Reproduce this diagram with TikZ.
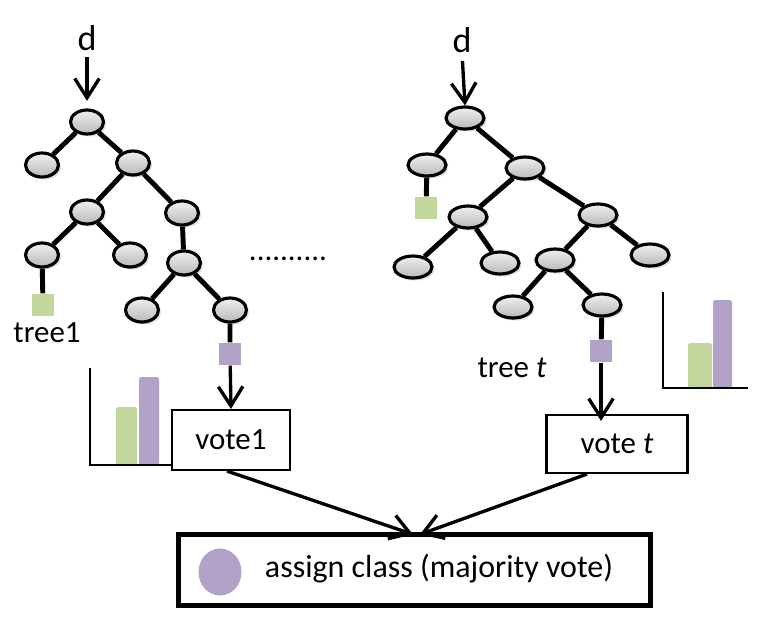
\documentclass[tikz,border=0pt]{standalone}
\usepackage{fontspec}
\setmainfont{Carlito}
\usepackage{tikz}
\usetikzlibrary{shapes.geometric,shadows,arrows.meta}

\definecolor{leafgreen}{HTML}{C3D69B}
\definecolor{leafpurple}{HTML}{B3A2C7}

\begin{document}
\begin{tikzpicture}[x=0.02cm,y=-0.02cm,
	txt/.style={inner sep=0pt,font=\fontsize{17.6}{21}\selectfont},
	input/.style={inner sep=0pt,font=\fontsize{20.5}{24}\selectfont},
	split/.style={ellipse,draw,line width=1.8pt,top color=gray!12,bottom color=gray!55,
		minimum width=0.66cm,minimum height=0.48cm,inner sep=0pt,
		drop shadow={opacity=0.25,shadow xshift=0.05cm,shadow yshift=-0.05cm}},
	wide/.style={minimum width=0.76cm,minimum height=0.44cm},
	leaf/.style={rectangle,inner sep=0pt,minimum size=0.45cm},
	branch/.style={line width=2.8pt},
	arr/.style={line width=1.9pt,-{Straight Barb[length=11pt,width=14pt,line width=1.9pt]}},
	votebox/.style={rectangle,draw,line width=1.2pt,fill=white,inner sep=0pt,font=\fontsize{17.6}{21}\selectfont},
	axis/.style={line width=1.2pt}]
	
	\useasboundingbox (0,0) rectangle (757,623);
	
	% tree 1
	\node[input] (dl) at (87,38) {d};
	\node[split] (l0) at (87,122) {};
	\node[split] (l1) at (42,165) {};
	\node[split] (l2) at (133,163) {};
	\node[split] (l3) at (87,212) {};
	\node[split] (l4) at (182,213) {};
	\node[split] (l5) at (42,255) {};
	\node[split] (l6) at (130,255) {};
	\node[split] (l7) at (184,263) {};
	\node[split] (l8) at (142,310) {};
	\node[split] (l9) at (230,310) {};
	\node[leaf,fill=leafgreen] (lg) at (43,305) {};
	\node[leaf,fill=leafpurple] (lp) at (230,354) {};
	\draw[branch] (l0) -- (l1) (l0) -- (l2) (l2) -- (l3) (l2) -- (l4)
		(l3) -- (l5) (l3) -- (l6) (l4) -- (l7) (l7) -- (l8) (l7) -- (l9)
		(l5) -- (lg) (l9) -- (lp);
	\draw[arr,shorten <=3.5pt,shorten >=4.3pt] (dl.south) -- (l0.north);
	\node[txt] (t1) at (47,333) {tree1};
	
	\node[txt] (dots) at (288,259) {..........};
	
	% tree t
	\node[input] (dr) at (462,40) {d};
	\node[split,wide] (r0) at (465,118) {};
	\node[split,wide] (r1) at (427,165) {};
	\node[split,wide] (r2) at (525,168) {};
	\node[split,wide] (r3) at (468,217) {};
	\node[split,wide] (r4) at (598,215) {};
	\node[split,wide] (r5) at (413,267) {};
	\node[split,wide] (r6) at (500,263) {};
	\node[split,wide] (r7) at (555,260) {};
	\node[split,wide] (r8) at (650,255) {};
	\node[split,wide] (r9) at (513,307) {};
	\node[split,wide] (r10) at (602,305) {};
	\node[leaf,fill=leafgreen] (rg) at (426,208) {};
	\node[leaf,fill=leafpurple] (rp) at (601,351) {};
	\draw[branch] (r0) -- (r1) (r0) -- (r2) (r1) -- (rg) (r2) -- (r3) (r2) -- (r4)
		(r3) -- (r5) (r3) -- (r6) (r4) -- (r7) (r4) -- (r8) (r7) -- (r9) (r7) -- (r10)
		(r10) -- (rp);
	\draw[arr,shorten <=4.5pt] (dr.south) -- (r0.north);
	\node[txt] (tt) at (512,368) {tree \textit{t}};
	
	% histograms
	\fill[leafgreen,rounded corners=1pt] (116,465) rectangle (137,407);
	\fill[leafpurple,rounded corners=1pt] (139,465) rectangle (159,377);
	\draw[axis] (90,368) -- (90,465) -- (175,465);
	\fill[leafgreen,rounded corners=1pt] (688,388) rectangle (712,343);
	\fill[leafpurple,rounded corners=1pt] (713,388) rectangle (732,300);
	\draw[axis] (663,292) -- (663,388) -- (748,388);
	
	% votes
	\node[votebox,minimum width=2.36cm,minimum height=1.2cm] (v1) at (231,440) {vote1};
	\node[votebox,minimum width=2.82cm,minimum height=1.16cm] (vt) at (617,444) {vote \textit{t}\hspace{0.48cm}};
	\coordinate (vtin) at (rp |- vt.north);
	\draw[arr] (lp) -- (v1.north);
	\draw[arr] (rp) -- ([yshift=-0.14cm]vtin);
	
	\node[rectangle,draw,line width=3pt,minimum width=9.44cm,minimum height=1.42cm] (major) at (414.5,570) {};
	\node[ellipse,fill=leafpurple,minimum width=0.86cm,minimum height=0.94cm,inner sep=0pt] (dot) at (220,572) {};
	\node[txt,font=\fontsize{18.2}{22}\selectfont] (assign) at (439,569) {assign class (majority vote)};
	\draw[arr] ([xshift=-0.08cm]v1.south) -- ([xshift=-0.03cm,yshift=-0.05cm]major.north);
	\draw[arr] ([xshift=-0.6cm]vt.south) -- ([xshift=0.11cm,yshift=-0.05cm]major.north);
	
\end{tikzpicture}
\end{document}
